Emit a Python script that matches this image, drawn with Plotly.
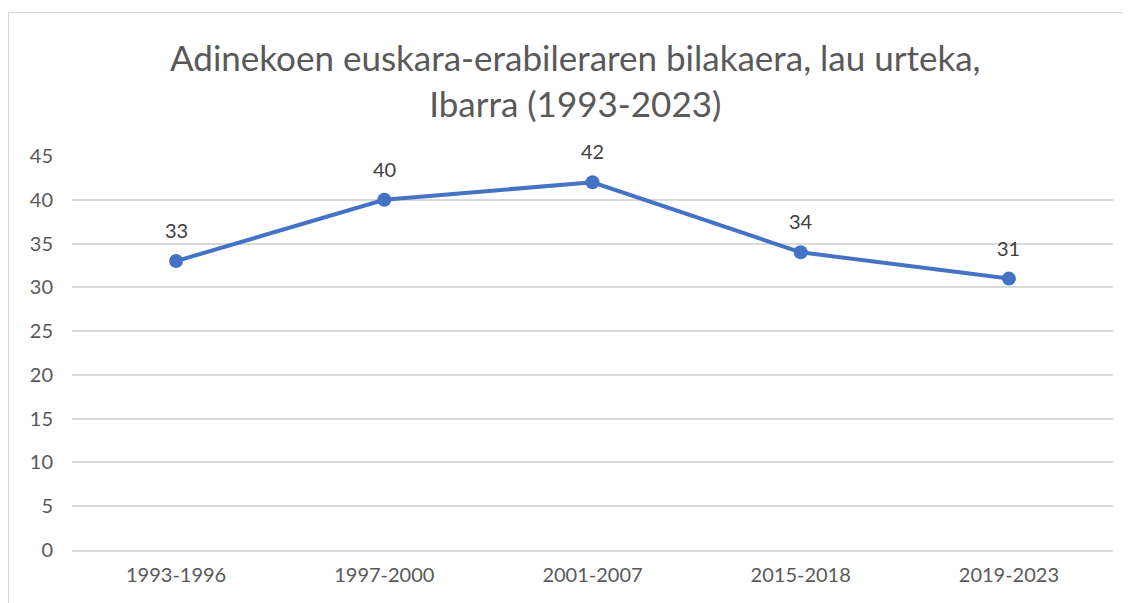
import plotly.graph_objects as go

categories = ["1993-1996", "1997-2000", "2001-2007", "2015-2018", "2019-2023"]
values = [33, 40, 42, 34, 31]
y_ticks = [0, 5, 10, 15, 20, 25, 30, 35, 40, 45]
title_text = "Adinekoen euskara-erabileraren bilakaera, lau urteka,<br>Ibarra (1993-2023)"

FONT = "Lato"
OFF = 8  # page offset of the plot div
W, H = 1131 - OFF, 603 - OFF
L, R, T, B = 72 - OFF, 18, 156 - OFF, 603 - 550
pw = W - L - R
ph = H - T - B

def px_x(p):
    return (p - OFF - L) / pw

def px_y(p):
    return (H - B - (p - OFF)) / ph

fig = go.Figure()
fig.add_trace(go.Scatter(
    x=categories, y=values, mode="lines+markers",
    line=dict(color="#4472C4", width=4),
    marker=dict(color="#4472C4", size=14),
    hoverinfo="x+y",
))

annotations = [
    dict(x=c, y=v, xref="x", yref="y", text=str(v), showarrow=False,
         yshift=31, yanchor="middle", font=dict(family=FONT, size=20, color="#404040"))
    for c, v in zip(categories, values)
]
annotations.append(dict(
    x=px_x(575), y=px_y(80), xref="paper", yref="paper", text=title_text,
    showarrow=False, xanchor="center", yanchor="middle", align="center",
    font=dict(family=FONT, size=35, color="#595959"),
))

fig.update_layout(
    width=W, height=H,
    margin=dict(l=L, r=R, t=T, b=B, pad=0),
    paper_bgcolor="white", plot_bgcolor="white",
    showlegend=False,
    annotations=annotations,
    shapes=[dict(type="rect", xref="paper", yref="paper",
                 x0=px_x(8.5), x1=px_x(1145), y0=px_y(615), y1=px_y(12.5),
                 line=dict(color="#D9D9D9", width=1), fillcolor="rgba(0,0,0,0)", layer="below")],
    xaxis=dict(type="category", range=[-0.5, 4.5], showgrid=False,
               showline=True, linecolor="#D9D9D9", linewidth=1.5,
               ticks="", zeroline=False, ticklabelstandoff=6,
               tickfont=dict(family=FONT, size=20, color="#595959")),
    yaxis=dict(range=[0, 45], tickvals=y_ticks, showgrid=True, gridcolor="#D9D9D9",
               gridwidth=1.5, zeroline=False, showline=False, ticks="",
               ticklabelstandoff=18,
               tickfont=dict(family=FONT, size=20, color="#595959")),
)

fig.write_html("out.html")
